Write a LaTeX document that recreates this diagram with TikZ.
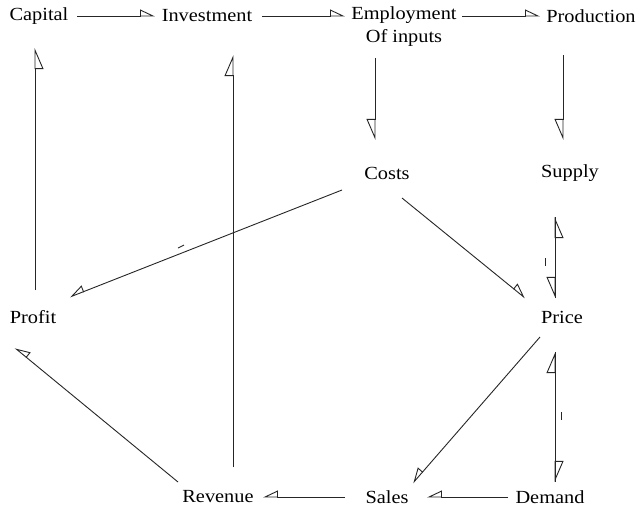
\documentclass[tikz,border=0pt]{standalone}
\usepackage{fontspec}
\setmainfont{Liberation Serif}[FakeStretch=1.1]
\usetikzlibrary{arrows.meta}
\begin{document}
\begin{tikzpicture}[x=1pt,y=-1pt,
  lbl/.style={inner sep=0pt, font=\fontsize{18.5}{23}\selectfont, align=center},
  conn/.style={draw=black!85, line width=0.9pt},
  hl/.style={conn, -{Triangle[open,left,length=14pt,width=13pt]}},
  hr/.style={conn, -{Triangle[open,right,length=14pt,width=13pt]}},
  vl/.style={conn, -{Triangle[open,left,length=20pt,width=17pt]}},
  vr/.style={conn, -{Triangle[open,right,length=20pt,width=17pt]}},
  nick/.style={draw=black!85, line width=0.9pt},
]
\fill[white] (0,0) rectangle (638,507);
\useasboundingbox (0,0) rectangle (638,507);

% economic quantities
\node[lbl] (cap)    at (39,16)  {Capital};
\node[lbl] (inv)    at (207,16) {Investment};
\node[lbl] (emp)    at (404,27) {Employment\\Of inputs};
\node[lbl] (prod)   at (591,16) {Production};
\node[lbl] (costs)  at (387,173) {Costs};
\node[lbl] (supply) at (570,173) {Supply};
\node[lbl] (profit) at (33,317) {Profit};
\node[lbl] (price)  at (562,317) {Price};
\node[lbl] (rev)    at (218,497) {Revenue};
\node[lbl] (sales)  at (387,497) {Sales};
\node[lbl] (dem)    at (550,497) {Demand};

% top chain
\draw[hl] ([shift={(38,0)}]cap.center)  -- ([shift={(-52,0)}]inv.center);
\draw[hl] ([shift={(55,0)}]inv.center)  -- ([shift={(-59,-11)}]emp.center);
\draw[hl] ([shift={(58,-11)}]emp.center) -- ([shift={(-51,0)}]prod.center);

% downward links
\draw[vr] ([shift={(-29,31)}]emp.center)  -- ([shift={(-12,-33)}]costs.center);
\draw[vr] ([shift={(-28,39)}]prod.center) -- ([shift={(-7,-33)}]supply.center);

% supply / price / demand
\draw[vr] ([shift={(-15,44)}]supply.center) -- ([shift={(-7,-19)}]price.center);
\draw[vr] ([shift={(-7,-19)}]price.center) -- ([shift={(-15,44)}]supply.center);
\draw[vl] ([shift={(-7,35)}]price.center) -- ([shift={(5,-15)}]dem.center);
\draw[vl] ([shift={(5,-15)}]dem.center) -- ([shift={(-7,35)}]price.center);

% diagonal links
\draw[hl] ([shift={(15,25)}]costs.center)  -- ([shift={(-37,-19)}]price.center);
\draw[hr] ([shift={(-45,17)}]costs.center) -- ([shift={(37,-20)}]profit.center);
\draw[hr] ([shift={(-22,20)}]price.center) -- ([shift={(26,-14)}]sales.center);
\draw[hr] ([shift={(-40,-15)}]rev.center)  -- ([shift={(-18,31)}]profit.center);

% bottom chain
\draw[hr] ([shift={(-42,0)}]dem.center)   -- ([shift={(40,0)}]sales.center);
\draw[hr] ([shift={(-42,0)}]sales.center) -- ([shift={(45,0)}]rev.center);

% feedback to the top row
\draw[vl] ([shift={(15,-30)}]rev.center) -- ([shift={(26,39)}]inv.center);
\draw[vr] ([shift={(2,-27)}]profit.center) -- ([shift={(-4,32)}]cap.center);

% small nicks along the lines
\draw[nick] (178,248) -- (184,245);
\draw[nick] (545,258) -- (545,266);
\draw[nick] (561,412) -- (561,420);
\end{tikzpicture}
\end{document}
